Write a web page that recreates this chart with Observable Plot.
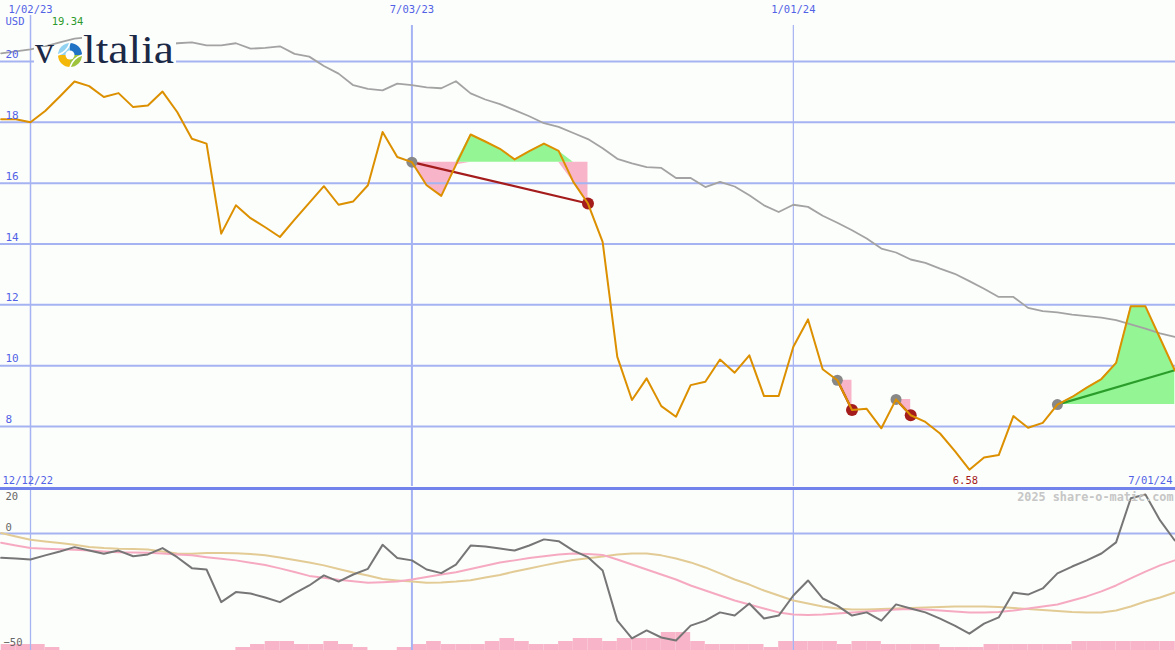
<!DOCTYPE html>
<html><head><meta charset="utf-8">
<script src="https://cdn.jsdelivr.net/npm/d3@7"></script>
<script src="https://cdn.jsdelivr.net/npm/@observablehq/plot@0.6"></script>
<style>
html,body{margin:0;padding:0;background:#fcfefb;}
#wrap{position:relative;width:1175px;height:650px;overflow:hidden;background:#fcfefb;}
#wrap > .layer{position:absolute;left:0;}
</style></head><body><div id="wrap"></div>
<script>
// ---------- data ----------
const firstWeek = "2022-12-19";
const lastWeek = "2024-07-01";
const price = [18.1,18.1,18.0,18.37,18.85,19.34,19.19,18.83,18.96,18.5,18.55,19.01,18.34,17.46,17.3,14.34,15.27,14.85,14.55,14.23,14.8,15.35,15.9,15.29,15.4,15.93,17.68,16.86,16.69,15.93,15.58,16.6,17.6,17.37,17.13,16.78,17.05,17.3,17.06,16.04,15.33,14.07,10.29,8.87,9.58,8.67,8.32,9.36,9.47,10.2,9.77,10.34,9.0,9.0,10.62,11.52,9.88,9.52,8.54,8.58,7.94,8.89,8.37,8.15,7.77,7.2,6.58,6.98,7.06,8.34,7.96,8.12,8.72,8.97,9.28,9.56,10.09,11.95,11.95,10.9,9.85];
const average = [20.27,20.33,20.4,20.5,20.63,20.75,20.8,20.8,20.7,20.6,20.55,20.55,20.6,20.63,20.53,20.53,20.6,20.42,20.45,20.5,20.25,20.16,19.85,19.6,19.22,19.1,19.05,19.27,19.22,19.15,19.12,19.35,18.95,18.75,18.6,18.4,18.2,17.97,17.85,17.65,17.45,17.15,16.8,16.65,16.53,16.5,16.17,16.17,15.87,16.04,15.89,15.6,15.27,15.05,15.29,15.22,14.93,14.7,14.45,14.18,13.85,13.72,13.49,13.38,13.19,13.02,12.78,12.53,12.26,12.26,11.9,11.79,11.75,11.68,11.63,11.58,11.5,11.36,11.22,11.06,10.95];
const momentum = [-10.7,-11,-11.4,-9.6,-7.9,-6.0,-7.5,-8.9,-7.5,-10,-9.2,-6.4,-10.4,-15.2,-15.8,-30.1,-25.7,-26.3,-28.1,-30.1,-26.3,-22.8,-18.4,-21.1,-18,-15.5,-5.0,-10.8,-11.8,-15.8,-17.4,-13.7,-5.3,-5.7,-6.6,-7.5,-5.3,-2.6,-3.4,-7.5,-10.4,-16.2,-38.2,-46,-42.5,-45.6,-46.9,-40.4,-38.2,-34.6,-36,-30.7,-37.3,-36,-27.2,-20.6,-28.5,-31.6,-36,-34.6,-38.2,-31.1,-32.9,-34.6,-37.3,-40.4,-43.9,-39.5,-36.8,-25.9,-26.8,-24.1,-17.5,-14.5,-11.8,-8.8,-3.9,15.4,17.1,5.7,-3.1];
const momentumFast = [-4.1,-5.3,-6.4,-6.7,-6.9,-7.1,-7.5,-7.9,-8.2,-8.3,-8.5,-8.8,-9.2,-9.6,-10.4,-11.1,-11.8,-12.8,-13.8,-15.3,-16.9,-18.6,-19.4,-20.3,-21,-21.6,-21.4,-21.1,-20.2,-19.1,-18,-17,-15.6,-14.2,-12.7,-11.8,-10.8,-10,-9.2,-8.8,-9,-9.4,-11.4,-13.6,-15.8,-18,-20.2,-22.8,-25,-27.2,-29.4,-31.1,-32.9,-34.6,-35.5,-35.7,-35.5,-35.1,-34.6,-34.2,-33.8,-33.3,-33.1,-33.3,-33.8,-34.2,-34.6,-34.6,-34.4,-33.8,-32.9,-32,-31.1,-29.4,-27.6,-25.4,-22.8,-19.7,-16.7,-14,-11.8];
const momentumSlow = [0.2,-1.3,-2.8,-3.5,-4.2,-5,-5.9,-6.4,-6.7,-6.8,-7,-7.9,-8.8,-8.9,-8.6,-8.6,-8.7,-9,-9.6,-10.5,-11.6,-12.7,-14,-15.6,-17.1,-18.4,-20,-20.6,-21.1,-21.6,-21.5,-21.1,-20.5,-19.3,-18.2,-16.7,-15.4,-14,-12.7,-11.6,-10.9,-10.1,-9.2,-8.8,-8.8,-9.6,-11,-12.7,-14.9,-17.5,-20.2,-22.4,-25,-27.2,-29.4,-30.7,-32,-32.9,-33.3,-33.3,-33.1,-32.9,-32.7,-32.5,-32.2,-32,-32,-32,-32.2,-32.7,-33.1,-33.6,-34,-34.4,-34.6,-34.6,-33.8,-32,-29.8,-28.1,-25.9];
const volume = [2,2,2,1,0,0,0,0,0,0,0,0,0,0,0,0,1,2,3,3,2,2,3,2,1,0,0,1,2,3,2,2,2,3,4,3,2,2,3,4,4,3,4,4,4,6,6,3,2,2,2,2,1,3,3,3,3,2,3,3,2,2,2,2,1,1,1,2,2,2,2,2,2,3,3,3,3,3,3,3,3];
const priceTicks = [8,10,12,14,16,18,20];
const dateTicks = ["2023-01-02","2023-07-03","2024-01-01"];
const dateTickLabels = ["1/02/23","7/03/23","1/01/24"];
const signalStart = ["2023-07-03","2024-01-22","2024-02-19","2024-05-06"];
const signalEnd   = ["2023-09-25","2024-01-29","2024-02-26","2024-07-01"];
const signalKind  = ["loss","loss","loss","gain"];
const momTicks = [20,0,-50];

// ---------- tables ----------
const weeks = d3.utcMonday.range(new Date(firstWeek), d3.utcDay.offset(new Date(lastWeek), 1));
const rows = weeks.map((d, i) => ({date: d, price: price[i], avg: average[i], mom: momentum[i], fast: momentumFast[i], slow: momentumSlow[i], vol: volume[i]}));
const byTime = new Map(rows.map(r => [+r.date, r]));
const signals = signalStart.map((s, i) => {
  const a = byTime.get(+new Date(s)), b = byTime.get(+new Date(signalEnd[i]));
  return {start: a, end: b, kind: signalKind[i], ref: a.price,
    seg: rows.filter(r => r.date >= a.date && r.date <= b.date)};
});
const minRow = rows.reduce((m, r) => r.price < m.price ? r : m, rows[0]);
const maxRow = rows.reduce((m, r) => r.price > m.price ? r : m, rows[0]);

const W = 1175;
const wk = 7 * 864e5;
const t0 = +new Date("2023-01-02");
const xDomain = [new Date(t0 - 2.045 * wk), new Date(t0 + 78.05 * wk)];
const BG = "#fcfefb", GRID = "#a6b3f3", AXIS = "#5262e6", FONT = "DejaVu Sans Mono, monospace";
const ORANGE = "#dc9000", PINK = "#f8b4c8", GREEN = "#94f594", DARKRED = "#a41c1c";

// ---------- top panel ----------
const topH = 486;
const topDom = [6.027, 22.005];
const fillMarks = (list, color, above) => list.map(s => Plot.areaY(s.seg, {
  x: "date", y1: () => s.ref,
  y2: d => above ? Math.max(d.price, s.ref) : Math.min(d.price, s.ref),
  fill: color, curve: "linear"}));

const topPlot = Plot.plot({
  width: W, height: topH, margin: 0,
  style: {background: "transparent", fontFamily: FONT},
  x: {type: "utc", domain: xDomain, axis: null},
  y: {domain: topDom, axis: null},
  marks: [
    ...fillMarks(signals, PINK, false),
    Plot.ruleY(priceTicks, {stroke: GRID, strokeWidth: 2}),
    Plot.ruleX([new Date(dateTicks[0])], {y1: 21.51, y2: topDom[0], stroke: GRID, strokeWidth: 1.5}),
    Plot.ruleX([new Date(dateTicks[1])], {y1: 21.18, y2: topDom[0], stroke: GRID, strokeWidth: 2}),
    Plot.ruleX([new Date(dateTicks[2])], {y1: 21.18, y2: topDom[0], stroke: GRID, strokeWidth: 1.2}),
    ...fillMarks(signals, GREEN, true),
    Plot.line(rows, {x: "date", y: "avg", stroke: "#a3a3a3", strokeWidth: 1.8}),
    Plot.link(signals, {x1: d => d.start.date, y1: d => d.start.price, x2: d => d.end.date, y2: d => d.end.price,
      stroke: d => d.kind === "gain" ? "#2a9d2a" : DARKRED, strokeWidth: 2.2}),
    Plot.dot(signals, {x: d => d.start.date, y: d => d.start.price, r: 5.5, fill: "#888888"}),
    Plot.dot(signals.filter(s => s.kind === "loss"), {x: d => d.end.date, y: d => d.end.price, r: 6, fill: DARKRED}),
    Plot.line(rows, {x: "date", y: "price", stroke: ORANGE, strokeWidth: 2}),
    // axis labels
    Plot.text(priceTicks, {y: d => d, text: d => String(d), frameAnchor: "left", dx: 5, dy: -7, textAnchor: "start", fill: AXIS, fontSize: 11}),
    Plot.text(dateTicks, {x: d => new Date(d), text: (d, i) => dateTickLabels[i], frameAnchor: "top", dy: 5, fill: AXIS, fontSize: 10.5}),
    Plot.text(["USD"], {frameAnchor: "top-left", dx: 5, dy: 17, textAnchor: "start", fill: AXIS, fontSize: 10.5}),
    Plot.text([maxRow], {x: "date", text: d => d.price.toFixed(2), frameAnchor: "top", dx: -7, dy: 17, fill: "#2c9a2c", fontSize: 10.5}),
    Plot.text([minRow], {x: "date", text: d => d.price.toFixed(2), frameAnchor: "bottom", dx: -4, dy: -3, fill: DARKRED, fontSize: 10.5}),
    Plot.text(["12/12/22"], {frameAnchor: "bottom-left", dx: 2, dy: -3, textAnchor: "start", fill: AXIS, fontSize: 10.5}),
    Plot.text(["7/01/24"], {frameAnchor: "bottom-right", dx: -3, dy: -3, textAnchor: "end", fill: AXIS, fontSize: 10.5})
  ]
});

// ---------- volume strip ----------
const volPlot = Plot.plot({
  width: W, height: 30, margin: 0,
  style: {background: "transparent"},
  x: {type: "utc", domain: xDomain, axis: null},
  y: {domain: [0, 10], axis: null},
  marks: [
    Plot.rectY(rows, {x1: "date", x2: d => new Date(+d.date + wk), y: "vol", fill: "#f8b4c8"})
  ]
});

// ---------- bottom panel ----------
const botDom = [-51.3, 19.7];
const bottomPlot = Plot.plot({
  width: W, height: 164, marginTop: 2, marginBottom: 0, marginLeft: 0, marginRight: 0,
  style: {background: "transparent", fontFamily: FONT},
  x: {type: "utc", domain: xDomain, axis: null},
  y: {domain: botDom, axis: null},
  marks: [
    Plot.ruleY([0], {stroke: GRID, strokeWidth: 2}),
    Plot.ruleX(dateTicks.map(d => new Date(d)), {stroke: GRID, strokeWidth: (d, i) => i === 1 ? 2 : 1.3}),
    Plot.line(rows, {x: "date", y: "slow", stroke: "#e3cb95", strokeWidth: 2}),
    Plot.line(rows, {x: "date", y: "fast", stroke: "#f6aac2", strokeWidth: 2}),
    Plot.line(rows, {x: "date", y: "mom", stroke: "#767676", strokeWidth: 2}),
    Plot.frame({anchor: "top", stroke: "#7283ec", strokeWidth: 3}),
    Plot.text([momTicks[0]], {text: d => String(d), frameAnchor: "top-left", dx: 5, dy: 4, textAnchor: "start", fill: "#666666", fontSize: 10.5}),
    Plot.text([momTicks[1]], {y: d => d, text: d => String(d), frameAnchor: "left", dx: 5, dy: -6, textAnchor: "start", fill: "#666666", fontSize: 10.5}),
    Plot.text([momTicks[2]], {text: d => "\u2212" + Math.abs(d), frameAnchor: "bottom-left", dx: 3, dy: -5, textAnchor: "start", fill: "#666666", fontSize: 10.5}),
    Plot.text(["2025 share-o-matic.com"], {frameAnchor: "top-right", dx: -2, dy: 4, textAnchor: "end", fill: "#c6c6c6", fontSize: 11.8, fontWeight: "bold"})
  ]
});

// ---------- assemble ----------
const wrap = document.getElementById("wrap");
function add(node, topPx) {
  const d = document.createElement("div");
  d.className = "layer"; d.style.top = topPx + "px";
  d.appendChild(node); wrap.appendChild(d);
}
add(topPlot, 0);
add(volPlot, 620);
add(bottomPlot, 486);

// logo (brand mark drawn over the chart's top-left corner)
const ns = "http://www.w3.org/2000/svg";
const logo = document.createElementNS(ns, "svg");
logo.setAttribute("width", 142); logo.setAttribute("height", 44);
logo.style.position = "absolute"; logo.style.left = "34px"; logo.style.top = "26px"; logo.style.overflow = "visible";
logo.innerHTML = `
  <rect x="0" y="21" width="52" height="22" fill="${BG}"/>
  <rect x="48" y="6" width="94" height="37" fill="${BG}"/>
  <text x="1" y="37" font-family="Liberation Serif, serif" font-size="38" fill="#1b2947">v</text>
  <g transform="translate(36,29)">
    <circle r="12" fill="#ffffff"/>
    <path d="M0,0 L0,-12 A12,12 0 0,1 12,0 Z" fill="#1f72c4"/>
    <path d="M0,0 L-12,0 A12,12 0 0,1 0,-12 Z" fill="#93d3f2"/>
    <path d="M0,0 L0,12 A12,12 0 0,1 -12,0 Z" fill="#f3b80a"/>
    <path d="M0,0 L12,0 A12,12 0 0,1 0,12 Z" fill="#9dc43c"/>
    <circle r="4.5" fill="#ffffff"/>
    <path d="M-12,0 Q-3,-3 0,-12" stroke="#fff" stroke-width="1.6" fill="none"/>
    <path d="M12,0 Q3,3 0,12" stroke="#fff" stroke-width="1.6" fill="none"/>
  </g>
  <text x="49" y="37" font-family="Liberation Serif, serif" font-size="40" fill="#1b2947" textLength="91" lengthAdjust="spacingAndGlyphs">ltalia</text>`;
wrap.appendChild(logo);
</script>
</body></html>
